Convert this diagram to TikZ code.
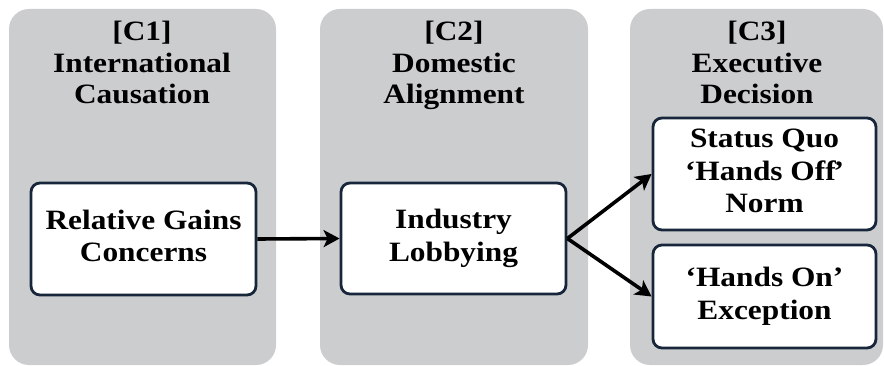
\documentclass[tikz,border=0pt]{standalone}
\usepackage{fontspec}
\setmainfont{Liberation Serif}
\usetikzlibrary{arrows.meta}
\definecolor{panelgray}{HTML}{CCCDCF}
\definecolor{boxborder}{HTML}{17263A}
\newcommand\wtxt[1]{\scalebox{1.12}[1]{\begin{tabular}{@{}c@{}}#1\end{tabular}}}
\begin{document}
\begin{tikzpicture}[x=1pt,y=-1pt,
  panel/.style={fill=panelgray, rounded corners=20pt},
  title/.style={font=\bfseries\fontsize{28}{31.5}\selectfont, text=black, inner sep=0pt},
  box/.style={draw=boxborder, line width=2.8pt, fill=white, rounded corners=9pt,
    font=\bfseries\fontsize{28}{32.5}\selectfont, inner sep=0pt, text=black},
  conn/.style={-{Stealth[length=16pt,width=17pt,inset=4pt]}, line width=3.6pt, black}]
\useasboundingbox (0,0) rectangle (884,366);
% panels
\fill[panel] (9,9) rectangle (276,365);
\fill[panel] (320,9) rectangle (588,365);
\fill[panel] (630,9) rectangle (883,365);
% titles
\node[title] (t1) at (142,66) {\wtxt{[C1]\\International\\Causation}};
\node[title] (t2) at (454,66) {\wtxt{[C2]\\Domestic\\Alignment}};
\node[title] (t3) at (757,66) {\wtxt{[C3]\\Executive\\Decision}};
% boxes
\node[box, minimum width=225pt, minimum height=112pt] (rg) at (143.5,239) {\wtxt{Relative Gains\\Concerns}};
\node[box, minimum width=225pt, minimum height=111pt] (il) at (453.5,238.5) {\wtxt{Industry\\Lobbying}};
\node[box, minimum width=223pt, minimum height=112pt] (sq) at (764.5,174) {\wtxt{Status Quo\\‘Hands Off\kern-2pt’\\Norm}};
\node[box, minimum width=223pt, minimum height=103pt] (ho) at (764.5,296.5) {\wtxt{‘Hands On’\\Exception}};
% connectors
\draw[conn] (rg.east) -- (il.west);
\draw[conn] (il.east) -- (sq.west);
\draw[conn] (il.east) -- (ho.west);
\end{tikzpicture}
\end{document}
